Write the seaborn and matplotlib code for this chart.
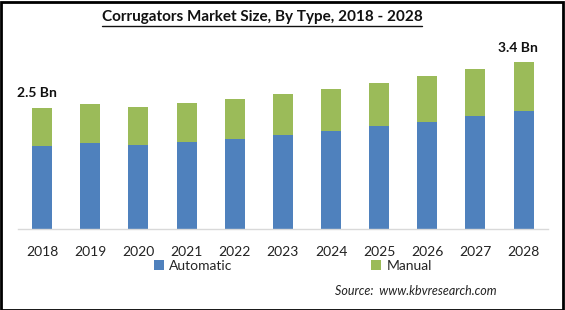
import matplotlib
matplotlib.use("Agg")
import matplotlib.pyplot as plt
import seaborn as sns
import pandas as pd
from matplotlib.patches import Rectangle, Patch

years = ["2018", "2019", "2020", "2021", "2022", "2023", "2024", "2025", "2026", "2027", "2028"]
automatic = [1.71, 1.77, 1.73, 1.79, 1.85, 1.93, 2.01, 2.12, 2.20, 2.32, 2.42]
manual = [0.78, 0.80, 0.78, 0.80, 0.82, 0.84, 0.86, 0.88, 0.94, 0.96, 1.00]
series = ["Automatic", "Manual"]
annotations = {"2018": "2.5 Bn", "2028": "3.4 Bn"}

blue = "#4F81BD"
green = "#9BBB59"

sns.set_theme(style="white")
plt.rcParams['font.family'] = ['Lato', 'DejaVu Sans']

totals = [a + m for a, m in zip(automatic, manual)]
df = pd.DataFrame({"Year": years, "Automatic": automatic, "Total": totals})

fig = plt.figure(figsize=(5.65, 3.10), dpi=100)
ax = fig.add_axes([18 / 565, 1 - 229.3 / 310, (547.7 - 18) / 565, (229.3 - 45) / 310])

sns.barplot(data=df, x="Year", y="Total", color=green, width=0.415, ax=ax,
            saturation=1, edgecolor="none")
sns.barplot(data=df, x="Year", y="Automatic", color=blue, width=0.415, ax=ax,
            saturation=1, edgecolor="none")

ax.set_xlim(-0.5, len(years) - 0.5)
ax.set_ylim(0, (229.3 - 45) / 48.8)
ax.set_xlabel("")
ax.set_ylabel("")
ax.set_yticks([])
for s in ["top", "right", "left"]:
    ax.spines[s].set_visible(False)
ax.spines["bottom"].set_color("#d9d9d9")
ax.spines["bottom"].set_linewidth(1)
ax.tick_params(axis="x", length=0, pad=12, labelsize=10, colors="#222222")

for i, y in enumerate(years):
    if y in annotations:
        ax.annotate(annotations[y], xy=(i, totals[i]), xytext=(-4, 6),
                    textcoords="offset points", ha="center", va="bottom",
                    fontsize=10, fontweight="bold", color="#111111")

fig.text(262 / 565, 1 - 17 / 310, "Corrugators Market Size, By Type, 2018 - 2028",
         ha="center", va="center", fontsize=11, fontweight="bold", color="#111111")
fig.add_artist(plt.Line2D([102 / 565, 422 / 565], [1 - 26 / 310, 1 - 26 / 310],
                          transform=fig.transFigure, color="#111111", lw=1))

handles = [Patch(facecolor=blue, edgecolor="none"), Patch(facecolor=green, edgecolor="none")]
fig.legend(handles, series, loc="center", bbox_to_anchor=(293 / 565, 1 - 266 / 310),
           ncol=2, frameon=False, fontsize=10, handlelength=0.7, handleheight=0.7,
           handletextpad=0.4, columnspacing=10)

fig.text(497 / 565, 1 - 291 / 310, "Source:  www.kbvresearch.com", ha="right", va="center",
         fontsize=9, style="italic", color="#222222")

fig.add_artist(Rectangle((0.5 / 565, 0.5 / 310), 562.5 / 565, 308 / 310,
                         transform=fig.transFigure, fill=False, edgecolor="black", lw=2))

fig.savefig("out.png", dpi=100)
